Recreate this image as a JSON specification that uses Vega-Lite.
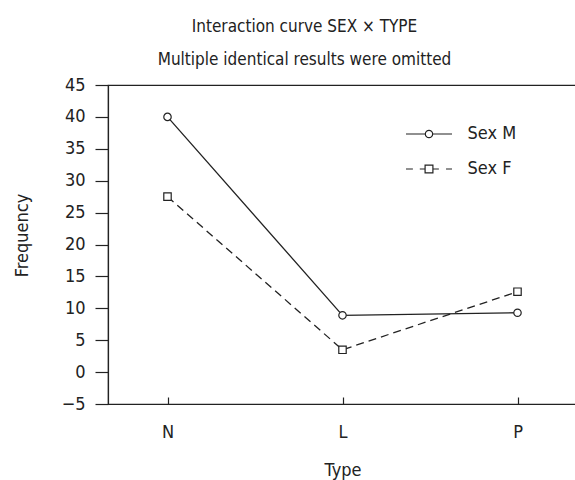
{
  "$schema": "https://vega.github.io/schema/vega-lite/v6.json",
  "width": 469,
  "height": 319,
  "autosize": {"type": "none"},
  "padding": {"left": 108, "top": 85, "right": 0, "bottom": 76},
  "background": "white",
  "config": {
    "font": "DejaVu Sans Condensed",
    "view": {"stroke": "#222", "strokeWidth": 1.2},
    "axis": {"grid": false, "domainColor": "#222", "tickColor": "#222", "labelColor": "#222", "titleColor": "#222", "labelFontSize": 18, "titleFontSize": 18, "titleFontWeight": "normal", "domainWidth": 1.2, "tickWidth": 1.2}
  },
  "title": {
    "text": ["Interaction curve SEX × TYPE", "Multiple identical results were omitted"],
    "fontSize": 17,
    "fontWeight": "normal",
    "color": "#222",
    "lineHeight": 33,
    "anchor": "middle",
    "dx": -38,
    "offset": 7
  },
  "data": {
    "values": [
      {"type": "N", "sex": "Sex M", "freq": 40.0},
      {"type": "L", "sex": "Sex M", "freq": 8.9},
      {"type": "P", "sex": "Sex M", "freq": 9.3},
      {"type": "N", "sex": "Sex F", "freq": 27.5},
      {"type": "L", "sex": "Sex F", "freq": 3.5},
      {"type": "P", "sex": "Sex F", "freq": 12.6}
    ]
  },
  "encoding": {
    "x": {
      "field": "type", "type": "ordinal", "sort": ["N", "L", "P"],
      "scale": {"type": "point", "padding": 0.34},
      "axis": {"title": "Type", "labelAngle": 0, "tickSize": -7, "labelPadding": 26, "titlePadding": 20}
    },
    "y": {
      "field": "freq", "type": "quantitative",
      "scale": {"domain": [-5, 45], "nice": false, "zero": false},
      "axis": {"title": "Frequency", "values": [-5, 0, 5, 10, 15, 20, 25, 30, 35, 40, 45], "tickSize": 13, "labelPadding": 10, "titlePadding": 30, "titleY": 150}
    }
  },
  "layer": [
    {
      "transform": [{"filter": "datum.sex === 'Sex M'"}],
      "mark": {"type": "line", "color": "#222", "strokeWidth": 1.3}
    },
    {
      "transform": [{"filter": "datum.sex === 'Sex F'"}],
      "mark": {"type": "line", "color": "#222", "strokeWidth": 1.3, "strokeDash": [8, 5]}
    },
    {
      "mark": {"type": "point", "filled": false, "color": "#222", "strokeWidth": 1.2, "size": 0},
      "encoding": {
        "shape": {
          "field": "sex", "type": "nominal",
          "scale": {"domain": ["Sex M", "Sex F"], "range": ["M-2,0H-0.32M0.32,0H2M-0.32,0A0.32,0.32 0 1,0 0.32,0A0.32,0.32 0 1,0 -0.32,0", "M-2,0H-1.4M-0.8,0H-0.34M0.34,0H0.86M1.48,0H2M-0.34,-0.34H0.34V0.34H-0.34Z"]},
          "legend": {
            "title": null,
            "orient": "none",
            "legendX": 308.5,
            "legendY": 36.5,
            "padding": 0,
            "labelFontSize": 18,
            "labelColor": "#222",
            "labelOffset": 26,
            "rowPadding": 13,
            "symbolSize": 529,
            "symbolOpacity": 1,
            "symbolStrokeColor": "#222",
            "symbolFillColor": "transparent",
            "symbolStrokeWidth": 1.2
          }
        }
      }
    },
    {
      "transform": [{"filter": "datum.sex === 'Sex M'"}],
      "mark": {"type": "point", "shape": "circle", "filled": false, "fill": "white", "stroke": "#222", "strokeWidth": 1.2, "size": 55, "opacity": 1}
    },
    {
      "transform": [{"filter": "datum.sex === 'Sex F'"}],
      "mark": {"type": "point", "shape": "square", "filled": false, "fill": "white", "stroke": "#222", "strokeWidth": 1.2, "size": 55, "opacity": 1}
    }
  ]
}
